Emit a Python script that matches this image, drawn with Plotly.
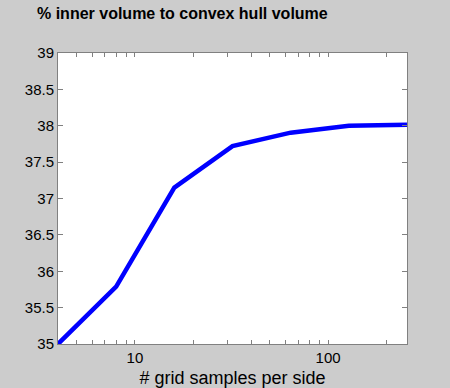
import plotly.graph_objects as go

samples = [4, 8, 16, 32, 64, 128, 256]
pct_volume = [35.0, 35.79, 37.15, 37.72, 37.905, 38.0, 38.015]
y_ticks = [35, 35.5, 36, 36.5, 37, 37.5, 38, 38.5, 39]
y_tick_labels = ["35", "35.5", "36", "36.5", "37", "37.5", "38", "38.5", "39"]
x_ticks = [5, 6, 7, 8, 9, 10, 20, 30, 40, 50, 60, 70, 80, 90, 100, 200]
x_tick_labels = ["", "", "", "", "", "10", "", "", "", "", "", "", "", "", "100", ""]

fig = go.Figure()
fig.add_trace(go.Scatter(x=samples, y=pct_volume, mode="lines",
                         line=dict(color="#0000ff", width=4.5)))

font = dict(family="Liberation Sans, Arial, sans-serif", size=15, color="#000000")
fig.update_layout(
    width=450, height=388,
    paper_bgcolor="#cccccc", plot_bgcolor="#ffffff",
    margin=dict(l=58, r=43, t=53, b=44, autoexpand=False),
    showlegend=False,
    font=font,
    title=dict(text="<b>% inner volume to convex hull volume</b>", x=37/450, xanchor="left",
               y=1 - 13/388, yanchor="middle", font=dict(size=16)),
)
fig.update_xaxes(type="log", range=[0.60206, 2.40824], tickvals=x_ticks, ticktext=x_tick_labels,
                 ticks="inside", ticklen=4, tickcolor="#808080", mirror="ticks", automargin=False,
                 showline=True, linecolor="#808080", linewidth=1, showgrid=False, zeroline=False,
                 title=dict(text="# grid samples per side", standoff=6))
fig.update_yaxes(range=[35, 39], tickvals=y_ticks, ticktext=y_tick_labels, automargin=False,
                 ticks="inside", ticklen=5, tickcolor="#808080", mirror="ticks",
                 showline=True, linecolor="#808080", linewidth=1, showgrid=False, zeroline=False)
fig.write_html("out.html", config={"displayModeBar": False},
               post_script="document.body.style.margin='0';document.body.style.background='#cccccc';")
